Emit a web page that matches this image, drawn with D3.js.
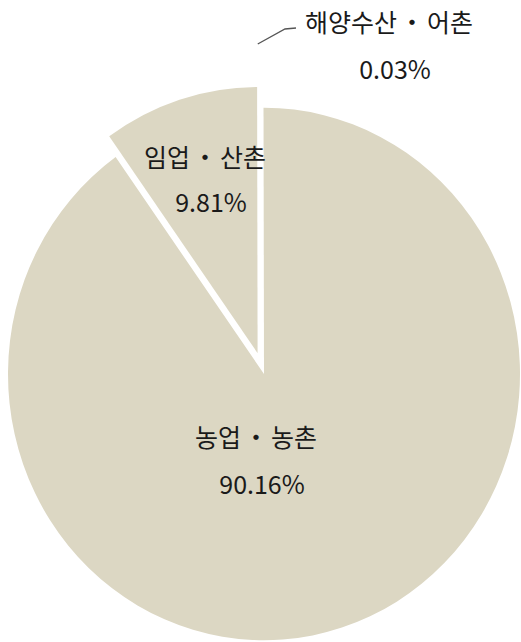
<!DOCTYPE html>
<html>
<head>
<meta charset="utf-8">
<script src="https://cdn.jsdelivr.net/npm/d3@7/dist/d3.min.js"></script>
<style>
  html, body { margin: 0; padding: 0; background: #fff; }
  svg { display: block; }
  text { font-family: "Noto Sans CJK KR", "Malgun Gothic", sans-serif; fill: #1a1a1a; }
</style>
</head>
<body>
<svg id="chart" width="521" height="642"></svg>
<script>
// ---- data ----
const categories = ["농업 ・ 농촌", "임업 ・ 산촌", "해양수산 ・ 어촌"];
const values = [90.16, 9.81, 0.03];
const valueLabels = ["90.16%", "9.81%", "0.03%"];
const exploded = [false, true, false];

// ---- layout ----
const cx = 264, cy = 374, r = 256, yScale = 1.04;
const explodeDist = 21;
const fillColor = "#dcd7c3";

const svg = d3.select("#chart");
const g = svg.append("g").attr("transform", `translate(${cx},${cy}) scale(1,${yScale})`);

const pie = d3.pie().sort(null).value(d => d)(values);
const arc = d3.arc().innerRadius(0).outerRadius(r);

g.selectAll("path.slice")
  .data(pie)
  .enter().append("path")
  .attr("class", "slice")
  .attr("d", arc)
  .attr("fill", fillColor)
  .attr("transform", (d, i) => {
    if (!exploded[i]) return null;
    const mid = (d.startAngle + d.endAngle) / 2;
    return `translate(${Math.sin(mid) * explodeDist},${-Math.cos(mid) * explodeDist})`;
  });

// labels (positions tuned to reference)
const labelPos = [
  { x: 256, y1: 447, y2: 494 },
  { x: 205, y1: 167, y2: 212 },
  { x: 389, y1: 32, y2: 79 }
];
const lab = svg.append("g");
categories.forEach((c, i) => {
  lab.append("text").attr("x", labelPos[i].x).attr("y", labelPos[i].y1)
    .attr("text-anchor", "middle").attr("font-size", 25)
    .attr("word-spacing", -3).text(c);
  lab.append("text").attr("x", labelPos[i].x + 6).attr("y", labelPos[i].y2)
    .attr("text-anchor", "middle").attr("font-size", 25).text(valueLabels[i]);
});

// leader line for the tiny slice
const tiny = pie[2];
const tmid = (tiny.startAngle + tiny.endAngle) / 2;
const lx0 = cx + Math.sin(tmid) * r - 6;
const ly0 = 44;
svg.append("polyline")
  .attr("points", `${lx0},${ly0} ${285},${29} ${296},${28}`)
  .attr("fill", "none").attr("stroke", "#555").attr("stroke-width", 1.3);
</script>
</body>
</html>
